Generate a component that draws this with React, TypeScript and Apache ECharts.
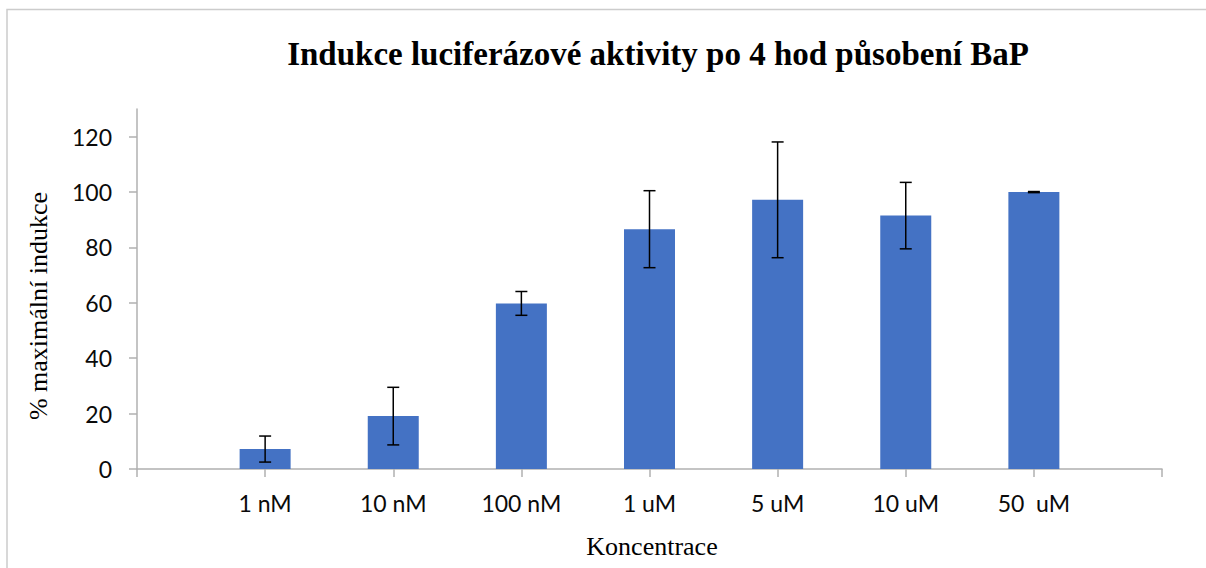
import React, { useEffect, useRef } from "react";
import * as echarts from "echarts";

const categories = ["", "1 nM", "10 nM", "100 nM", "1 uM", "5 uM", "10 uM", "50  uM", ""];
const means = [null, 7.2, 19.1, 59.8, 86.6, 97.2, 91.5, 100, null];
const errors = [null, 4.7, 10.4, 4.3, 13.9, 20.9, 12.0, 0.2, null];
const yTicks = [0, 20, 40, 60, 80, 100, 120];

const titleText = "Indukce luciferázové aktivity po 4 hod působení BaP";
const yName = "% maximální indukce";
const xName = "Koncentrace";

export default function App() {
  const ref = useRef<HTMLDivElement>(null);
  useEffect(() => {
    if (!ref.current) return;
    const chart = echarts.init(ref.current, undefined, { renderer: "svg" });
    const errData: any[] = [];
    means.forEach((m, i) => {
      if (m !== null && errors[i] !== null) {
        errData.push([i, (m as number) - (errors[i] as number), (m as number) + (errors[i] as number)]);
      }
    });
    const axisColor = "#b0b0b0";
    chart.setOption({
      animation: false,
      backgroundColor: "#ffffff",
      grid: { left: 137, right: 44, top: 109, bottom: 99, containLabel: false },
      xAxis: {
        type: "category",
        data: categories,
        boundaryGap: false,
        axisLine: { lineStyle: { color: axisColor, width: 1.5 } },
        axisTick: { show: true, interval: 0, length: 8, lineStyle: { color: axisColor, width: 1.5 } },
        axisLabel: { interval: 0, margin: 22, fontFamily: "Lato", fontSize: 23, color: "#0a0a0a" },
        splitLine: { show: false },
      },
      yAxis: {
        type: "value",
        min: 0,
        max: 130,
        interval: 10,
        axisLine: { show: true, lineStyle: { color: axisColor, width: 1.5 } },
        axisTick: { show: true, length: 8, customValues: yTicks, lineStyle: { color: axisColor, width: 1.5 } },
        axisLabel: { customValues: yTicks, margin: 25, fontFamily: "Lato", fontSize: 23, color: "#0a0a0a" },
        splitLine: { show: false },
      },
      series: [
        {
          type: "bar",
          data: means,
          barWidth: 51,
          itemStyle: { color: "#4472C4" },
        },
        {
          type: "custom",
          data: errData,
          z: 10,
          renderItem: (params: any, api: any) => {
            const x = api.value(0);
            const lo = api.coord([x, api.value(1)]);
            const hi = api.coord([x, api.value(2)]);
            const hw = 6;
            const style = { stroke: "#000", lineWidth: 1.5 };
            return {
              type: "group",
              children: [
                { type: "line", shape: { x1: lo[0], y1: lo[1], x2: hi[0], y2: hi[1] }, style },
                { type: "line", shape: { x1: lo[0] - hw, y1: lo[1], x2: lo[0] + hw, y2: lo[1] }, style },
                { type: "line", shape: { x1: hi[0] - hw, y1: hi[1], x2: hi[0] + hw, y2: hi[1] }, style },
              ],
            };
          },
        },
      ],
      graphic: [
        {
          type: "rect",
          shape: { x: 7, y: 9.5, width: 1400, height: 800 },
          style: { fill: "none", stroke: "#cccccc", lineWidth: 1.5 },
          silent: true,
        },
        {
          type: "text",
          x: 658,
          y: 54,
          style: {
            text: titleText,
            fontFamily: "Liberation Serif",
            fontWeight: "bold",
            fontSize: 33,
            fill: "#000",
            align: "center",
            verticalAlign: "middle",
          },
        },
        {
          type: "text",
          x: 38,
          y: 306,
          rotation: Math.PI / 2,
          style: {
            text: yName,
            fontFamily: "Liberation Serif",
            fontSize: 26,
            fill: "#000",
            align: "center",
            verticalAlign: "middle",
          },
        },
        {
          type: "text",
          x: 652,
          y: 546,
          style: {
            text: xName,
            fontFamily: "Liberation Serif",
            fontSize: 26,
            fill: "#000",
            align: "center",
            verticalAlign: "middle",
          },
        },
      ],
    });
    return () => chart.dispose();
  }, []);
  return (
    <div
      ref={ref}
      style={{ position: "fixed", left: 0, top: 0, width: 1206, height: 568 }}
    />
  );
}
